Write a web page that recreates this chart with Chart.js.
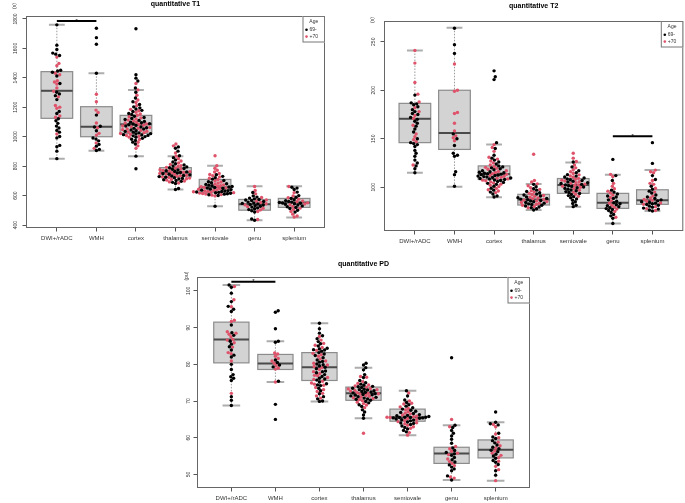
<!DOCTYPE html>
<html><head><meta charset="utf-8">
<script src="https://cdn.jsdelivr.net/npm/chart.js@4/dist/chart.umd.min.js"></script>
<style>
html,body{margin:0;padding:0;background:#fff;}
#wrap{position:relative;width:685px;height:503px;overflow:hidden;background:#fff;}
canvas{position:absolute;}
</style></head><body>
<div id="wrap">
<canvas id="c1" width="340" height="250" style="left:0;top:0"></canvas>
<canvas id="c2" width="345" height="250" style="left:340px;top:0"></canvas>
<canvas id="c3" width="380" height="253" style="left:160px;top:250px"></canvas>
</div>
<script>
// ---------- data ----------
const categories = ['DWI+/rADC','WMH','cortex','thalamus','semiovale','genu','splenium'];
const ageGroups = ['69-','+70'];
const legendTitle = 'Age';

// quantitative T1
const t1Title = 'quantitative T1';
const t1Unit = '(s)';
const t1Ticks = [400,600,800,1000,1200,1400,1600,1800];
const t1Young = [
 [1760,1622,1592,1568,1561,1552,1452,1446,1438,1412,1362,1302,1291,1279,1252,1172,1158,1122,1108,1091,1072,1059,1043,1031,1002,992,941,932,902,851],
 [1737,1673,1628,1431,1147,1071,1066,1041,991,984,972,948,936,914,906],
 [1733,1421,1398,1379,1331,1302,1263,1238,1219,1203,1196,1188,1179,1171,1158,1151,1139,1131,1124,1117,1111,1104,1099,1096,1089,1086,1081,1077,1072,1066,1061,1057,1052,1046,1041,1036,1031,1026,1021,1019,1014,1012,1009,1006,1001,996,989,983,974,963,951,868,782],
 [931,922,902,871,858,842,828,816,808,801,795,789,784,779,774,769,765,761,757,753,749,745,741,737,733,729,725,721,717,713,708,703,697,690,682,648,642],
 [742,731,722,712,703,694,688,681,676,671,667,662,659,655,651,648,644,641,637,634,631,628,625,622,619,616,613,610,606,601,528],
 [621,598,590,583,578,574,570,567,560,556,551,547,543,540,536,532,528,522,517,511,505,497,488,441,433],
 [657,651,642,624,600,589,580,572,566,561,556,553,550,548,545,541,536,530,524,519,512,501,488]
];
const t1Old = [
 [1541,1498,1482,1431,1421,1381,1372,1358,1331,1309,1271,1212,1201,1193,1141,1132,1019],
 [1288,1238,1181,1165,1093,1061,1023,1011,958,921],
 [1362,1318,1282,1249,1232,1211,1186,1176,1166,1154,1146,1136,1128,1121,1113,1107,1098,1093,1087,1083,1078,1073,1068,1063,1058,1053,1048,1043,1037,1033,1027,1022,1017,1008,1003,997,981,962,938,921],
 [951,938,889,868,851,835,822,812,804,798,792,786,781,776,771,767,763,759,755,751,747,743,739,735,731,727,723,719,715,710,705,699,693,686],
 [871,803,786,772,760,751,743,735,727,718,709,700,692,685,678,673,668,664,660,656,652,647,643,639,635,632,629,626,623,620,617,614,611,607,603,598],
 [662,635,612,587,571,562,553,545,537,525,514,503,492,438],
 [662,620,597,585,576,563,558,551,543,538,527,515,506,492,474,462,455]
];
const t1Q1  = [1125,1000,1023,728,619,501,520];
const t1Med = [1312,1068,1084,757,656,542,553];
const t1Q3  = [1442,1204,1145,790,710,574,581];
const t1Lo  = [850,905,868,642,528,433,452];
const t1Hi  = [1761,1431,1317,868,803,664,664];
const t1Sig = [1,2,1786];

// quantitative T2
const t2Title = 'quantitative T2';
const t2Unit = '(s)';
const t2Ticks = [100,150,200,250];
const t2Young = [
 [195,187,186,185,183,180,178,176,175,172,170,168,166,163,160,157,150,146,145,144,142,138,135,132,128,125,122,119,115],
 [264,247,238,155,150,143,135,133,132,116,113,101],
 [220,214,211,146,140,133,130,128,126,124,122,121,120,119,118,117,116,115.5,115,114.5,114,113.5,113,112.5,112,111.5,111,110.5,110,109.5,109,108.5,108,107.5,107,106,105,104,103,101,99,97,95,93,91,90],
 [103,100.5,98.5,97,95.6,94.3,93.1,92,91,90.1,89.3,88.5,87.8,87.1,86.4,85.7,85,84.3,83.6,82.9,82.2,81.4,80.6,79.7,78.8,77.8,76.6],
 [126,121,117,115,113,111.5,110.5,109.5,108.6,107.8,107,106.2,105.4,104.6,103.8,103,102.3,101.6,100.9,100.2,99.5,98.8,98,97.2,96.4,95.5,94.6,93.6,92.5,91.4,90.3,89.2,88,86.6,85,83.2,81.4,80],
 [128.7,112,107,97,95,93,91,90,88.5,87,85.5,84,83,82,81,80,79,78,77,76,74,72,70.5,68,62.7],
 [146,124.6,112,108,101,98,96,94,92,90,88.5,87,86,85,84.3,83.6,83,82.2,81.5,80.5,79.5,78.5,77.5,76.5,75.5]
];
const t2Old = [
 [241,228,208,196,188,182,178,174,171,164,155,152,149,147,123],
 [227,200,199,177,176,166,158,153,151,148],
 [144,141,137,131,129,127,125,123,121.5,120.5,119.5,118.5,117,116.3,115.2,114.1,113.3,112.1,111.3,110.2,109.4,108.6,107.3,106.6,105.5,104.4,103.2,102.1,100.7,98.8,97.4,96.2,94.5],
 [134,107,105.5,103.5,101.5,99.5,97.8,96.3,95,93.7,92.5,91.5,90.6,89.7,88.9,88.1,87.4,86.7,86,85.2,84.4,83.5,82.5,81.4,80.2,78.8],
 [135,130,126.5,123,120,118,116,114.2,112.8,111.6,110.4,109.2,108.2,107.3,106.4,105.6,104.8,104,103.2,102.5,101.8,101,100,98.6,97,95,92.8,90.6],
 [113.3,111,104,101,98.5,96,94,92,89.5,86,83.5,81.5,79.5,77.5,75,69],
 [117.7,116,115,107,104,103,99,95,91,89,87.5,86.5,85.5,83.8,82.5,80,78,76]
];
const t2Q1  = [146,139,108,81.7,93.7,78.2,82.4];
const t2Med = [170.6,156,113.6,87.5,102.3,84,86.5];
const t2Q3  = [186.5,200,122,92.7,109,93.7,97.4];
const t2Lo  = [115,100.5,89.6,76.5,80,62.7,75.5];
const t2Hi  = [241,264.4,144,103.3,125.6,113,117.7];
const t2Sig = [6,7,152.6];

// quantitative PD
const pdTitle = 'quantitative PD';
const pdUnit = '(pu)';
const pdTicks = [50,60,70,80,90,100];
const pdYoung = [
 [101.6,101,99.4,97.1,95.8,95,94.4,90.7,88.6,87.9,86.3,85.5,84.8,83.9,82.5,82,80,78.6,77.2,76.6,76.2,75.6,71.2,70.2,68.8],
 [94.6,94.2,89.7,86.3,86,81.2,80.5,79.8,79.3,75.4,69.1,65],
 [91.2,89.7,88.5,87.8,87,86.2,85.6,85,84.4,84,83.6,83.2,82.8,82.4,81.8,81.2,80.6,80.1,79.6,79.2,78.8,78.2,77.7,77.2,76.7,76.2,75.7,75.2,74.7,74.2,73.5,72.8,72,71.2,70.6,70,69.9,84.2,83.9,80.8,79.9,78,76,74.4],
 [80.3,79.8,79.1,78.5,77.2,76.4,75.6,75,74.6,74.3,74,73.7,73.5,73.2,73,72.8,72.6,72.4,72.2,72,71.8,71.6,71.4,71.2,71,70.8,70.5,70.2,69.9,69.5,69,68.5,67.6,67,66.2,65.3,73.9,73.1,72.5,71.7,70.6],
 [72.8,71.4,70.3,69.6,69,68.6,68.2,67.8,67.5,67.2,66.9,66.6,66.3,66,65.8,65.6,65.5,65.4,65.3,65.1,64.9,64.6,64.3,64,63.6,63.2,62.8,62.4,62,61.6,65.6,65.5,65.4,66.1,64.8,63.9],
 [81.8,63.4,62.8,62,61.2,60.5,59.6,58.5,57.2,56.5,56,55.6,55.2,54.6,54,53.4,52.6,52,51.5,51,49.6,48.5],
 [67,64.2,63.8,63.5,61.2,60.2,59.8,59.2,58.6,58,57.4,57,56.6,56.2,55.5,55,54.4,53.8,53.3,52.7,51,49.8]
];
const pdOld = [
 [101.2,97.6,95.7,92,91.7,88.9,88.5,88.2,87.5,86.8,86.6,85.9,84.7,83.2,82.9,80.9,72.1],
 [83.1,82.8,82.2,81.6,80.9,80.3,79.6,79,78.7,75.2],
 [87.6,86.6,85.7,85.2,84.6,83.8,83,82.2,81.5,80.9,80.3,79.8,79.1,78.6,78,77.5,76.9,76.4,75.9,75.4,74.9,74.3,73.7,73.1,72.6,72.1,71.4,70.8,82.6,79.4,77,74.6],
 [76.7,76.5,75.3,74.8,74.4,74.1,73.8,73.4,73.1,72.9,72.7,72.3,72.1,71.9,71.5,71.3,71.1,70.9,70.4,70.1,69.7,69.3,68.9,68.2,61.2,73.3,72,70.7],
 [72.2,70,69.4,69.2,68.4,68,67.6,67.1,66.7,66.2,65.7,65.5,65.2,65,64.7,64.4,64.1,63.8,63.4,63,62.6,61.4,60.7,66.5,65.9,65.6],
 [65,63,57.6,57,56.3,55.8,55.4,54.2,53.5,53,52.4,49.3,49],
 [63.6,63,61,60,58.8,57.8,57.2,56.4,55.8,55.2,54.6,53.6,52.2,51.3,48.3]
];
const pdQ1  = [80.4,78.6,75.6,70.2,64.5,53,54.5];
const pdMed = [86.8,80.2,79.2,72.1,65.6,55.7,56.7];
const pdQ3  = [91.5,82.7,83.2,73.8,67.8,57.4,59.4];
const pdLo  = [68.8,75.2,69.9,65.3,60.7,48.5,48.3];
const pdHi  = [101.6,86.3,91.2,79.1,72.8,63.4,64.2];
const pdSig = [1,2,102.5];

// ---------- drawing ----------
const FONT = '"Liberation Sans", Arial, Helvetica, sans-serif';
const COL_YOUNG = '#000000';
const COL_OLD = '#DF536B';
const DOT = 3.4;      // point diameter
const SPACING = 3.15; // swarm spacing

function makePanel(id, o){
  const plugin = {
    id: 'panel_' + id,
    beforeDatasetsDraw(chart){
      const {ctx, scales:{x, y}} = chart;
      const ppu = x.getPixelForValue(1) - x.getPixelForValue(0);
      const hw = 0.4*ppu, cw = 0.2*ppu;
      ctx.save();
      for (let i = 0; i < o.q1.length; i++){
        const cx = x.getPixelForValue(i+1);
        const p1 = y.getPixelForValue(o.q1[i]), pm = y.getPixelForValue(o.med[i]),
              p3 = y.getPixelForValue(o.q3[i]), pl = y.getPixelForValue(o.lo[i]),
              ph = y.getPixelForValue(o.hi[i]);
        ctx.strokeStyle = '#9a9a9a'; ctx.lineWidth = 1; ctx.setLineDash([1.5,1.5]);
        ctx.beginPath(); ctx.moveTo(cx, ph); ctx.lineTo(cx, p3); ctx.moveTo(cx, p1); ctx.lineTo(cx, pl); ctx.stroke();
        ctx.setLineDash([]);
        ctx.strokeStyle = '#adadad'; ctx.lineWidth = 2;
        ctx.beginPath(); ctx.moveTo(cx-cw, ph); ctx.lineTo(cx+cw, ph); ctx.moveTo(cx-cw, pl); ctx.lineTo(cx+cw, pl); ctx.stroke();
        ctx.fillStyle = '#d3d3d3'; ctx.fillRect(cx-hw, p3, 2*hw, p1-p3);
        ctx.strokeStyle = '#8c8c8c'; ctx.lineWidth = 1.2; ctx.strokeRect(cx-hw, p3, 2*hw, p1-p3);
        ctx.strokeStyle = '#4a4a4a'; ctx.lineWidth = 2;
        ctx.beginPath(); ctx.moveTo(cx-hw, pm); ctx.lineTo(cx+hw, pm); ctx.stroke();
      }
      ctx.restore();
    },
    afterDraw(chart){
      const {ctx, chartArea:a, scales:{x, y}} = chart;
      ctx.save();
      ctx.strokeStyle = '#666'; ctx.lineWidth = 1;
      ctx.strokeRect(a.left+0.5, a.top+0.5, a.right-a.left-1, a.bottom-a.top-1);
      ctx.fillStyle = '#000'; ctx.font = 'bold 7px ' + FONT;
      ctx.textAlign = 'center'; ctx.textBaseline = 'middle';
      ctx.fillText(o.title, (a.left+a.right)/2, o.titleY);
      ctx.save();
      ctx.translate(a.left - o.unitDX, a.top - o.unitDY);
      ctx.rotate(-Math.PI/2);
      ctx.font = '5px ' + FONT; ctx.fillStyle = '#333';
      ctx.fillText(o.unit, 0, 0);
      ctx.restore();
      const sx1 = x.getPixelForValue(o.sig[0]), sx2 = x.getPixelForValue(o.sig[1]), sy = y.getPixelForValue(o.sig[2]);
      ctx.strokeStyle = '#000'; ctx.lineWidth = 2;
      ctx.beginPath(); ctx.moveTo(sx1, sy); ctx.lineTo(sx2, sy); ctx.stroke();
      ctx.font = '6px ' + FONT; ctx.textBaseline = 'alphabetic'; ctx.fillStyle = '#000';
      ctx.fillText('*', (sx1+sx2)/2, sy + 1.5);
      const lw = 22.5, lh = 26.5, lx = a.right - lw, ly = a.top;
      ctx.fillStyle = '#fff'; ctx.fillRect(lx, ly, lw, lh);
      ctx.strokeStyle = '#777'; ctx.lineWidth = 1;
      ctx.strokeRect(lx+0.5, ly+0.5, lw-1, lh-1);
      ctx.font = '5px ' + FONT; ctx.fillStyle = '#333'; ctx.textBaseline = 'middle';
      ctx.textAlign = 'center'; ctx.fillText(legendTitle, lx + lw/2, ly + 5.8);
      ctx.textAlign = 'left';
      [COL_YOUNG, COL_OLD].forEach((c, k) => {
        const yy = ly + 13.8 + k*6.8;
        ctx.fillStyle = c; ctx.beginPath(); ctx.arc(lx + 4, yy, 1.3, 0, Math.PI*2); ctx.fill();
        ctx.fillStyle = '#333'; ctx.fillText(ageGroups[k], lx + 7, yy);
      });
      ctx.restore();
    }
  };

  const chart = new Chart(document.getElementById(id), {
    type: 'scatter',
    data: { datasets: [
      { label: ageGroups[0], data: [], backgroundColor: COL_YOUNG, borderWidth: 0, pointRadius: DOT/2, pointHoverRadius: DOT/2 },
      { label: ageGroups[1], data: [], backgroundColor: COL_OLD, borderWidth: 0, pointRadius: DOT/2, pointHoverRadius: DOT/2 }
    ]},
    options: {
      responsive: false, animation: false, devicePixelRatio: 1, events: [],
      layout: { padding: { left: 0, top: o.padTop, right: o.padRight, bottom: 0 } },
      plugins: { legend: { display: false }, tooltip: { enabled: false } },
      scales: {
        x: {
          type: 'linear', min: 0.22, max: 7.78,
          afterBuildTicks: s => { s.ticks = categories.map((_, i) => ({ value: i + 1 })); },
          afterFit: s => { s.height = o.xH; },
          ticks: { autoSkip: false, maxRotation: 0, minRotation: 0, padding: o.xPad,
                   callback: v => categories[v - 1], color: '#333', font: { size: 6, family: FONT } },
          grid: { drawOnChartArea: false, drawTicks: true, tickLength: 3.5, color: '#555' },
          border: { display: false }
        },
        y: {
          min: o.yMin, max: o.yMax,
          afterBuildTicks: s => { s.ticks = o.ticks.map(v => ({ value: v })); },
          afterFit: s => { s.width = o.yW; },
          ticks: { minRotation: 90, maxRotation: 90, crossAlign: 'center', padding: o.yPad,
                   callback: v => String(v),
                   color: '#333', font: { size: 5, family: FONT } },
          grid: { drawOnChartArea: false, drawTicks: true, tickLength: 3.5, color: '#555' },
          border: { display: false }
        }
      }
    },
    plugins: [plugin]
  });

  // beeswarm layout of the points (pixel space, then back to axis units)
  const xs = chart.scales.x, ys = chart.scales.y;
  const ppu = xs.getPixelForValue(1) - xs.getPixelForValue(0);
  const dYoung = [], dOld = [];
  const D = SPACING;
  for (let c = 0; c < categories.length; c++){
    const pts = [];
    o.young[c].forEach(v => pts.push({ v, g: 0 }));
    o.old[c].forEach(v => pts.push({ v, g: 1 }));
    pts.forEach(p => p.py = ys.getPixelForValue(p.v));
    const order = pts.slice().sort((a, b) => b.py - a.py);
    const placed = [];
    for (const p of order){
      const cands = [0];
      for (const q of placed){
        const dy = Math.abs(q.py - p.py);
        if (dy < D){ const dx = Math.sqrt(D*D - dy*dy); cands.push(q.dx + dx, q.dx - dx); }
      }
      cands.sort((a, b) => Math.abs(a) - Math.abs(b));
      let best = 0;
      for (const cd of cands){
        let ok = true;
        for (const q of placed){
          const ex = q.dx - cd, ey = q.py - p.py;
          if (ex*ex + ey*ey < D*D - 0.01){ ok = false; break; }
        }
        if (ok){ best = cd; break; }
      }
      p.dx = best; placed.push(p);
    }
    pts.forEach(p => (p.g ? dOld : dYoung).push({ x: c + 1 + p.dx/ppu, y: p.v }));
  }
  chart.data.datasets[0].data = dYoung;
  chart.data.datasets[1].data = dOld;
  chart.update('none');
  return chart;
}

makePanel('c1', { title: t1Title, unit: t1Unit, ticks: t1Ticks, young: t1Young, old: t1Old,
  q1: t1Q1, med: t1Med, q3: t1Q3, lo: t1Lo, hi: t1Hi, sig: t1Sig,
  yMin: 380, yMax: 1820, padTop: 16, padRight: 15, yW: 26, xH: 22, xPad: 3.5, yPad: 1,
  titleY: 4.5, unitDX: 11, unitDY: 10 });
makePanel('c2', { title: t2Title, unit: t2Unit, ticks: t2Ticks, young: t2Young, old: t2Old,
  q1: t2Q1, med: t2Med, q3: t2Q3, lo: t2Lo, hi: t2Hi, sig: t2Sig,
  yMin: 54.9, yMax: 271.4, padTop: 21, padRight: 1, yW: 44, xH: 19, xPad: 3, yPad: 3,
  titleY: 6, unitDX: 11.5, unitDY: 1 });
makePanel('c3', { title: pdTitle, unit: pdUnit, ticks: pdTicks, young: pdYoung, old: pdOld,
  q1: pdQ1, med: pdMed, q3: pdQ3, lo: pdLo, hi: pdHi, sig: pdSig,
  yMin: 46.3, yMax: 103.8, padTop: 27, padRight: 10, yW: 37, xH: 15, xPad: 3.5, yPad: 1,
  titleY: 14, unitDX: 10, unitDY: 1 });
</script>
</body></html>
